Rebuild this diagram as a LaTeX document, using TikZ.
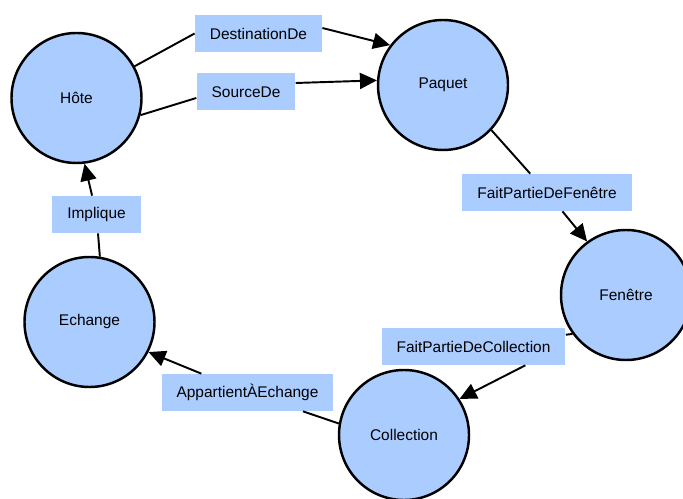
\documentclass[tikz,border=0pt]{standalone}
\usepackage{fontspec}
\setmainfont{Liberation Sans}
\definecolor{nodeblue}{RGB}{170,204,255}
\usetikzlibrary{arrows.meta}
\tikzset{
	etat/.style={circle, draw, line width=1.4pt, fill=nodeblue, minimum size=2.6cm, inner sep=0pt},
	relation/.style={rectangle, fill=nodeblue, minimum height=0.74cm, inner xsep=0.3cm, inner ysep=0pt},
	lien/.style={line width=1.1pt},
	fleche/.style={lien, -{Triangle[length=0.34cm,width=0.32cm]}}
}

\begin{document}
\begin{tikzpicture}[font=\fontsize{8.8}{10}\selectfont]
	\useasboundingbox (0,0) rectangle (13.66,9.96);
	% etats
	\node[etat] (hote) at (1.53,8.0){Hôte};
	\node[etat] (paquet) at (8.86,8.26){Paquet};
	\node[etat] (fenetre) at (12.52,4.06){Fenêtre};
	\node[etat] (collection) at (8.08,1.26){Collection};
	\node[etat] (echange) at (1.79,3.52){Echange};
	% relations
	\node[relation] (destde) at (5.17,9.29){DestinationDe};
	\node[relation] (sourcede) at (4.92,8.12){SourceDe};
	\node[relation] (partfen) at (10.94,6.11){FaitPartieDeFenêtre};
	\node[relation] (partcoll) at (9.47,3.03){FaitPartieDeCollection};
	\node[relation] (appech) at (4.95,2.11){AppartientÀEchange};
	\node[relation] (implique) at (1.93,5.67){Implique};
	% liens
	\draw[lien] (hote) -- (destde.west);
	\draw[fleche] ([yshift=0.11cm]destde.east) -- (paquet.143);
	\draw[lien] (hote.-15) -- ([yshift=-0.12cm]sourcede.west);
	\draw[fleche] ([yshift=0.18cm]sourcede.east) -- (paquet.176);
	\draw[lien] (paquet.-43) -- (partfen);
	\draw[fleche] (partfen) -- (fenetre.126);
	\draw[lien] (fenetre.216) -- (partcoll);
	\draw[fleche] (partcoll.-20) -- (collection.33);
	\draw[lien] (collection.170) -- (appech);
	\draw[fleche] (appech) -- (echange.-27);
	\draw[lien] (echange.81) -- (implique);
	\draw[fleche] (implique) -- (hote.-83);
\end{tikzpicture}
\end{document}
